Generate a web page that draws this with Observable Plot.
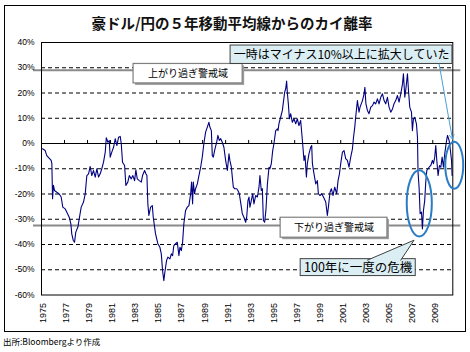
<!DOCTYPE html>
<html>
<head>
<meta charset="utf-8">
<script src="https://cdn.jsdelivr.net/npm/d3@7"></script>
<script src="https://cdn.jsdelivr.net/npm/@observablehq/plot@0.6"></script>
<style>
  html, body { margin: 0; padding: 0; width: 470px; height: 352px; overflow: hidden; background: #fff; }
  #outer { position: absolute; left: 4px; top: 5px; width: 462px; height: 327px; box-sizing: border-box; border: 1px solid #000; }
  #title { position: absolute; left: 0; top: 14px; width: 464px; text-align: center; font-family: "Noto Sans CJK JP", sans-serif; font-weight: bold; font-size: 14.5px; line-height: 17px; color: #111; }
  #caption { position: absolute; left: 3px; top: 336px; font-family: "Noto Sans CJK JP", sans-serif; font-size: 8.5px; line-height: 11px; color: #000; }
  #chart { position: absolute; left: 0; top: 0; }
</style>
</head>
<body>
<div id="outer"></div>
<div id="title">豪ドル/円の５年移動平均線からのカイ離率</div>
<div id="chart"></div>
<div id="caption">出所:Bloombergより作成</div>
<script>
// ---- data ----
const years = [
1975.09,1975.32,1975.46,1975.70,1975.84,1975.90,1975.96,1976.04,1976.13,1976.33,1976.54,1976.71,1976.85,
1977.06,1977.20,1977.41,1977.55,1977.63,1977.76,1977.87,1977.98,1978.16,1978.28,1978.45,1978.65,1978.80,1978.94,
1979.09,1979.23,1979.37,1979.52,1979.67,1979.81,1979.96,1980.10,1980.24,1980.39,1980.54,1980.63,1980.77,1980.89,1980.97,
1981.11,1981.26,1981.41,1981.55,1981.70,1981.84,1981.93,1982.04,1982.22,1982.33,1982.50,1982.63,1982.80,1982.94,
1983.09,1983.20,1983.32,1983.50,1983.67,1983.78,1983.96,1984.07,1984.16,1984.24,
1984.33,1984.48,1984.63,1984.71,1984.91,1985.11,1985.29,1985.41,1985.52,1985.63,1985.72,1985.87,1985.98,
1986.16,1986.28,1986.39,1986.50,1986.65,1986.80,1986.94,1987.03,1987.15,1987.26,1987.37,1987.52,1987.67,1987.81,1987.96,
1988.04,1988.13,1988.19,1988.30,1988.39,1988.54,1988.68,1988.83,1988.97,1989.11,1989.26,1989.41,1989.55,1989.63,1989.76,1989.84,1989.93,
1990.04,1990.22,1990.33,1990.45,1990.57,1990.71,1990.85,1991.00,1991.15,1991.29,1991.37,1991.50,1991.58,1991.67,1991.78,1991.96,
1992.07,1992.19,1992.30,
1992.45,1992.59,1992.74,1992.83,1992.94,1993.03,1993.11,1993.23,1993.35,1993.46,1993.61,1993.76,1993.90,1993.98,
1994.10,1994.19,1994.28,1994.39,1994.50,1994.63,1994.77,1994.85,1994.97,1995.09,1995.20,1995.35,1995.50,1995.55,1995.63,1995.78,1995.93,
1996.02,1996.13,1996.22,1996.30,1996.37,1996.45,1996.54,1996.65,1996.80,1996.94,1997.09,1997.23,1997.37,1997.52,1997.67,1997.81,1997.90,
1998.02,1998.10,1998.24,1998.39,1998.48,1998.54,1998.68,1998.83,1998.97,1999.06,1999.20,1999.35,1999.50,1999.70,1999.84,1999.93,
2000.07,2000.19,2000.33,2000.48,2000.65,2000.77,2000.89,2001.00,2001.15,2001.29,2001.43,2001.58,2001.72,2001.87,2002.02,
2002.10,2002.22,2002.30,2002.45,2002.59,2002.68,2002.89,2003.03,2003.10,2003.19,2003.32,2003.46,2003.61,2003.76,2003.90,
2004.04,2004.19,2004.33,2004.48,2004.63,2004.77,2004.91,2005.06,2005.20,2005.35,2005.50,2005.63,2005.78,2005.93,
2006.07,2006.22,2006.37,2006.45,2006.57,2006.68,2006.80,2006.89,2007.00,2007.15,2007.23,2007.32,2007.43,2007.58,2007.67,2007.72,2007.81,2007.90,
2008.02,2008.10,2008.19,2008.30,2008.39,2008.48,2008.59,2008.68,2008.83,2008.97,2009.06,2009.17,2009.26,2009.35,2009.46,2009.58,2009.70,2009.81,2009.93,
2010.04,2010.16,2010.28,2010.42,2010.50,2010.63,2010.68
];
const deviation = [
-2.1,-2.8,-4.8,-6,-6.7,-8,-21.9,-16.6,-18.6,-19.3,-20,-21.2,-25.2,
-25.9,-27.2,-29.2,-31.8,-35.8,-38.4,-39.1,-35.1,-33.1,-29.8,-25.2,-23.2,-19.9,-12.7,
-12,-9.1,-12.7,-10.7,-13.3,-10,-13.3,-12,-10,-7.4,-3.4,2.3,0.5,1.2,-5.4,
-3.4,-1.5,1.9,-0.8,2.5,2.8,0,-7.4,-8.7,-16.6,-15.3,-12.7,-14,-12.7,
-14.7,-10.4,-14,-14.7,-15.3,-12.7,-10.7,-12,-12.7,-23.9,
-28.5,-25.2,-24.6,-29.2,-35.8,-39.7,-41.1,-43.7,-50.3,-54.3,-51,-46.3,-45,
-45.7,-43.7,-44.4,-40.4,-39.7,-39.1,-44.4,-41.1,-42.4,-39.1,-31.8,-26.5,-25.2,-24.6,-19.9,
-15.3,-23.9,-15.3,-19.9,-17.9,-16,-12.7,-9.4,-5.4,0,4.5,6.5,8.4,6.5,5.1,-4.8,-5.4,
-2.8,0.5,3.2,1.2,1.9,0.5,-1.5,-6.7,-10.7,-4.1,-6.7,-9.4,-13.3,-17.3,-17.9,-17.9,
-18.6,-19.9,-23.2,
-27.8,-29.2,-31.2,-29.2,-22.6,-21.2,-25.2,-22.6,-19.9,-23.9,-20.6,-21.2,-17.3,-12.7,
-18.6,-17.9,-30.5,-31.2,-26.5,-16,-9.4,-10,-8,-2.8,0,5.1,5.8,5.1,7.8,10.4,13.1,
16.4,20.3,21.7,24.7,19.7,15.7,9.8,11.8,8.4,9.8,7.8,9.8,7.1,9.1,1.2,-6.7,-4.8,
-13.3,-8,-4.1,-1.5,-0.8,-8,-12,-16,-14.7,-19.9,-20.6,-19.9,-21.2,-23.2,-28.5,-25.2,
-19.3,-17.9,-20.6,-17.3,-19.9,-14.7,-12,-8,-3.4,-2.8,-6,-6.7,-9.4,-5.4,-2.1,
1.9,6.5,10.4,17,12.4,14.4,17,19.7,22.3,15.7,13.1,11.8,14.4,15,16.4,
15.7,17.7,15.7,18.3,19.7,17,15.7,18.3,14.4,12.4,13.7,15.7,17,19,
16.4,19.7,23.6,27.6,18.3,22.3,27.6,21,14.4,12.4,5.1,9.8,10.4,7.8,2.5,-11.4,-17.3,-27.8,
-27.2,-33.8,-26.5,-22.6,-15.3,-10.7,-10,-9.4,-8.7,-6.7,-8,-5.4,-0.8,-6.7,-12.7,-8.7,-9.4,-5.4,-9.4,
-4.1,0,3.2,1.2,-1.5,-6.7,-12.7
];
const yTicks = [40, 30, 20, 10, 0, -10, -20, -30, -40, -50, -60];
const dashedLevels = [30, 20, 10, -10, -20, -30, -40, -50];
const xTickYears = [1975,1977,1979,1981,1983,1985,1987,1989,1991,1993,1995,1997,1999,2001,2003,2005,2007,2009];
const warningLevels = [29, -32.5];
const warnBoxes = [
  {x1: 1983.0, x2: 1992.48, y1: 31.5, y2: 23.8, label: "上がり過ぎ警戒域"},
  {x1: 1995.78, x2: 2005.06, y1: -29.4, y2: -37.3, label: "下がり過ぎ警戒域"}
];
const calloutCrisis = [{x1: 1997.52, x2: 2007.52, y1: -45.8, y2: -52.5, label: "100年に一度の危機"}];
const calloutDrop = [{x1: 1991.43, x2: 2010.71, y1: 38.8, y2: 31.5, label: "一時はマイナス10%以上に拡大していた"}];
const wedge = [{x: 2003.32, y: -46.2}, {x: 2007.37, y: -38.3}, {x: 2006.22, y: -46.2}];
const pointer = [{x1: 2009.55, y1: 31.5, x2: 2010.71, y2: 1.75}];
const ellipses = [
  {x: 2007.87, y: -23.9, ax: 1.09, ay: 13.1},
  {x: 2010.91, y: -8.85, ax: 0.78, ay: 9.3}
];

const series = years.map((t, i) => ({t, v: deviation[i]}));
const jp = "'Noto Sans CJK JP', sans-serif";
const boxText = (arr, size) => Plot.text(arr, {x: d => (d.x1 + d.x2) / 2, y: d => (d.y1 + d.y2) / 2, text: "label", fontSize: size, fontFamily: jp, fill: "#000"});

const plot = Plot.plot({
  width: 470,
  height: 352,
  marginLeft: 41,
  marginRight: 17.7,
  marginTop: 42,
  marginBottom: 57.5,
  x: {domain: [1975, 2010.74], axis: null},
  y: {domain: [-60, 40], axis: null},
  style: {background: "transparent", fontFamily: "'Liberation Sans', Arial, sans-serif", color: "#000", overflow: "visible"},
  marks: [
    Plot.ruleY(dashedLevels, {stroke: "#000", strokeWidth: 1, strokeDasharray: "4,3"}),
    Plot.ruleY([0], {stroke: "#000", strokeWidth: 1}),
    Plot.ruleX(xTickYears, {y1: 0, y2: 1.2, stroke: "#000"}),
    Plot.ruleY(warningLevels, {stroke: "#8a8a8a", strokeWidth: 2, insetLeft: -8, insetRight: -8}),
    Plot.line(series, {x: "t", y: "v", stroke: "#000080", strokeWidth: 1.1}),
    Plot.frame({stroke: "#000", strokeWidth: 1}),
    Plot.axisY({ticks: yTicks, tickFormat: d => d + "%", tickSize: 0, tickPadding: 7, fontSize: 8.5}),
    Plot.axisX({ticks: xTickYears, tickFormat: d => String(d), tickSize: 0, tickPadding: 8, tickRotate: -90, fontSize: 9, dx: 2}),
    // warning zone boxes
    Plot.rect(warnBoxes, {x1: "x1", x2: "x2", y1: "y1", y2: "y2", fill: "#9a9a9a", dx: 2, dy: 2}),
    Plot.rect(warnBoxes, {x1: "x1", x2: "x2", y1: "y1", y2: "y2", fill: "#fff", stroke: "#7f7f7f", strokeWidth: 1.2}),
    boxText(warnBoxes, 10),
    // callouts
    Plot.rect(calloutCrisis, {x1: "x1", x2: "x2", y1: "y1", y2: "y2", fill: "#dbeef4", stroke: "#404040", strokeWidth: 1}),
    Plot.line(wedge, {x: "x", y: "y", fill: "#dbeef4", stroke: "#404040", strokeWidth: 1}),
    boxText(calloutCrisis, 12.5),
    Plot.rect(calloutDrop, {x1: "x1", x2: "x2", y1: "y1", y2: "y2", fill: "#dbeef4", stroke: "#404040", strokeWidth: 1}),
    boxText(calloutDrop, 12),
    Plot.arrow(pointer, {x1: "x1", y1: "y1", x2: "x2", y2: "y2", stroke: "#4a9fd6", strokeWidth: 1, headLength: 7})
  ]
});

const sx = plot.scale("x"), sy = plot.scale("y");
const svg = d3.select(plot);
svg.append("g").selectAll("ellipse").data(ellipses).join("ellipse")
  .attr("cx", d => sx.apply(d.x))
  .attr("cy", d => sy.apply(d.y))
  .attr("rx", d => Math.abs(sx.apply(d.x + d.ax) - sx.apply(d.x)))
  .attr("ry", d => Math.abs(sy.apply(d.y + d.ay) - sy.apply(d.y)))
  .attr("fill", "none")
  .attr("stroke", "#2a7cc4")
  .attr("stroke-width", 2);

document.getElementById("chart").appendChild(plot);
</script>
</body>
</html>
